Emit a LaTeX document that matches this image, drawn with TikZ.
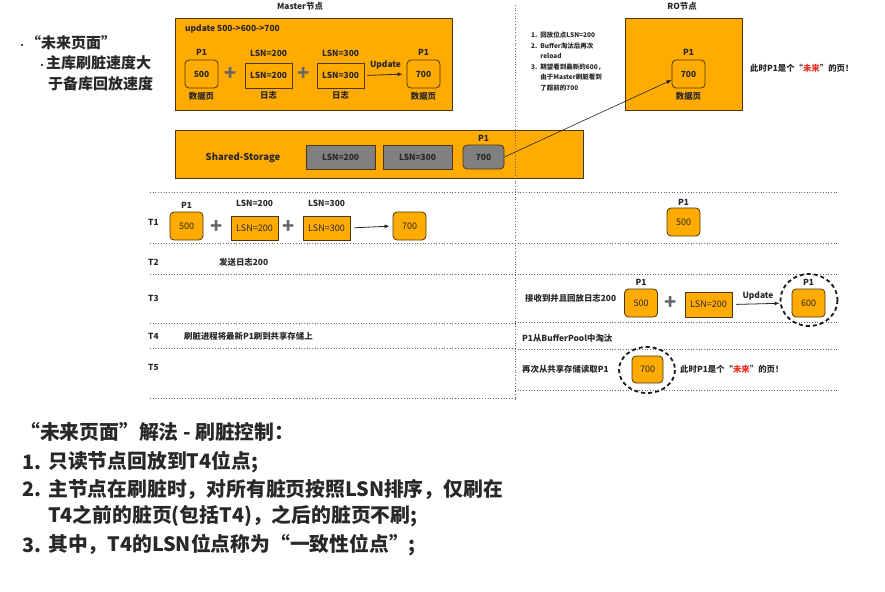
\documentclass[tikz,border=0pt]{standalone}
\usepackage{fontspec}
\setmainfont{Noto Sans CJK SC}
\usepackage{xcolor}
\usetikzlibrary{arrows.meta, positioning, calc}
\definecolor{pageorange}{RGB}{255,171,0}
\definecolor{boxedge}{RGB}{75,55,15}
\definecolor{storegray}{RGB}{128,128,128}
\definecolor{futurered}{RGB}{235,45,30}
\definecolor{inkgray}{RGB}{40,40,40}

\begin{document}
\begin{tikzpicture}[x=1pt, y=-1pt,
    every node/.style={font=\bfseries\fontsize{8.4}{9}\selectfont, inner sep=0pt, text=inkgray},
    region/.style={rectangle, draw=boxedge, fill=pageorange, line width=0.8pt},
    page/.style={rectangle, draw=boxedge, fill=pageorange, rounded corners=4pt, line width=0.8pt, minimum width=33pt, minimum height=28pt},
    logrec/.style={rectangle, draw=boxedge, fill=pageorange, line width=0.8pt, minimum width=47pt, minimum height=25pt},
    grayrec/.style={rectangle, draw=boxedge, fill=storegray, line width=0.8pt, minimum width=69pt, minimum height=24pt},
    rowpage/.style={page, font=\fontsize{9}{10}\selectfont},
    rowlog/.style={logrec, font=\fontsize{9}{10}\selectfont},
    plus/.style={font=\bfseries\fontsize{20}{20}\selectfont, text=black!60},
    arrow/.style={-{Latex[length=5pt, width=4pt]}, line width=0.8pt, black!85},
    sep/.style={dotted, line width=0.7pt, black!60},
    ring/.style={dashed, dash pattern=on 4pt off 3pt, line width=1.8pt, black!90},
    big/.style={font=\bfseries\fontsize{15}{17}\selectfont},
    huge/.style={font=\bfseries\fontsize{19.8}{22}\selectfont}
]
\useasboundingbox (0,0) rectangle (885,591);

% left bullets
\node (bull1) [big, anchor=west] at (18,43) {{\fontsize{8}{8}\selectfont•}“未来页面”};
\node (bull2) [big, anchor=west] at (38,63) {{\fontsize{8}{8}\selectfont•}主库刷脏速度大};
\node (bull3) [big, anchor=west] at (48,84) {于备库回放速度};

% Master node
\node (mastertitle) at (300,6) {Master节点};
\node (masterbox) [region, minimum width=277pt, minimum height=92pt] at (313.5,64) {};
\node (mupdate) [anchor=west] at (185,29) {update 500->600->700};
\node (m500) [page] at (201.5,74) {500};
\node [above=4pt of m500] {P1};
\node [below=4pt of m500] {数据页};
\node (mplus1) [plus] at (231,74) {+};
\node (m200) [logrec] at (268.5,75.5) {LSN=200};
\node [above=6pt of m200] {LSN=200};
\node [below=3pt of m200] {日志};
\node (mplus2) [plus] at (304,74) {+};
\node (m300) [logrec] at (340.5,75.5) {LSN=300};
\node [above=6pt of m300] {LSN=300};
\node [below=3pt of m300] {日志};
\node (m700) [page] at (423.5,74) {700};
\node [above=4pt of m700] {P1};
\node [below=4pt of m700] {数据页};
\draw [arrow, shorten <=3pt, shorten >=4pt] (m300.east) -- (m700.west)
    node[midway, above=5pt] {Update};

% RO node
\node (rotitle) at (682,6) {RO节点};
\node (robox) [region, minimum width=117pt, minimum height=92pt] at (683.5,64) {};
\node (ro700) [page] at (688.5,74) {700};
\node [above=4pt of ro700] {P1};
\node [below=4pt of ro700] {数据页};
\node (ronote) [anchor=north west, font=\bfseries\fontsize{6.5}{10.5}\selectfont] at (531,30)
    {\begin{tabular}{@{}l@{\ \ }l@{}}
     1. & 回放位点LSN=200\\
     2. & Buffer淘汰后再次\\
        & reload\\
     3. & 期望看到最新的600，\\
        & 由于Master刷脏看到\\
        & 了超前的700
     \end{tabular}};
\node (rofuture) [anchor=west] at (750,68) {此时P1是个“\textcolor{futurered}{未来}”的页！};

% Shared-Storage
\node (storebox) [region, minimum width=408pt, minimum height=48pt] at (379,154) {};
\node (storetitle) [font=\bfseries\fontsize{9.5}{10}\selectfont] at (243,158) {Shared-Storage};
\node (s200) [grayrec] at (340.5,157) {LSN=200};
\node (s300) [grayrec] at (417.5,157) {LSN=300};
\node (s700) [grayrec, rounded corners=4pt, minimum width=41pt] at (483.5,157) {700};
\node [above=3pt of s700] {P1};
\draw [arrow, line width=0.6pt] (s700.east) -- ($(ro700.west)+(0,6)$);

% separators
\draw [sep] (515,5) -- (515,400);
\foreach \yy in {192,243,274,323,348,398}
    \draw [sep] (150,\yy) -- (515,\yy);
\foreach \yy in {192,243,274,322,349,390}
    \draw [sep] (515,\yy) -- (838,\yy);

% row labels
\node (rowT1) [anchor=west] at (148,222) {T1};
\node (rowT2) [anchor=west] at (148,262) {T2};
\node (rowT3) [anchor=west] at (148,298) {T3};
\node (rowT4) [anchor=west] at (148,336) {T4};
\node (rowT5) [anchor=west] at (148,367) {T5};

% T1
\node (t500) [rowpage] at (186.5,226) {500};
\node [above=3pt of t500] {P1};
\node (tplus1) [plus] at (217,227) {+};
\node (t200) [rowlog, minimum height=24pt] at (254.5,228) {LSN=200};
\node [above=9pt of t200] {LSN=200};
\node (tplus2) [plus] at (289,227) {+};
\node (t300) [rowlog, minimum height=24pt] at (326.5,228) {LSN=300};
\node [above=9pt of t300] {LSN=300};
\node (t700) [rowpage] at (409.5,226) {700};
\draw [arrow, shorten <=4pt, shorten >=3pt] (t300.east) -- (t700.west);
\node (r500) [rowpage] at (683.5,222) {500};
\node [above=2pt of r500] {P1};

% T2
\node (sendlog) [anchor=west] at (219,262) {发送日志200};

% T3
\node (replay) [anchor=west] at (525,298) {接收到并且回放日志200};
\node (r3500) [rowpage] at (641,303) {500};
\node [above=3pt of r3500] {P1};
\node (r3plus) [plus] at (671,303) {+};
\node (r3200) [rowlog] at (708.5,304.5) {LSN=200};
\node (r600) [rowpage] at (808.5,303) {600};
\node [above=3pt of r600] {P1};
\draw [arrow, shorten <=4pt, shorten >=12pt] (r3200.east) -- (r600.west)
    node[midway, above=3pt, xshift=-4pt] {Update};
\draw [ring] (809,300) ellipse (28.5 and 26);

% T4
\node (flush) [anchor=west] at (184,336) {刷脏进程将最新P1刷到共享存储上};
\node (evict) [anchor=west] at (522,338) {P1从BufferPool中淘汰};

% T5
\node (reread) [anchor=west] at (522,369) {再次从共享存储读取P1};
\node (r700) [rowpage, minimum width=31pt, minimum height=27pt] at (647.5,369.5) {700};
\draw [ring] (647,370) ellipse (28 and 23);
\node (t5future) [anchor=west] at (680,369) {此时P1是个“\textcolor{futurered}{未来}”的页！};

% solution
\node (soltitle) [huge, anchor=west] at (20,432) {“未来页面”解法 - 刷脏控制：};
\node (num1) [huge, anchor=west] at (22,462) {1.};
\node (sol1) [huge, anchor=west] at (48,462) {只读节点回放到T4位点;};
\node (num2) [huge, anchor=west] at (22,489) {2.};
\node (sol2) [huge, anchor=west] at (48,489) {主节点在刷脏时，对所有脏页按照LSN排序，仅刷在};
\node (sol2b) [huge, anchor=west] at (48,516) {T4之前的脏页(包括T4)，之后的脏页不刷;};
\node (num3) [huge, anchor=west] at (22,545) {3.};
\node (sol3) [huge, anchor=west] at (48,545) {其中，T4的LSN位点称为“一致性位点”;};

\end{tikzpicture}
\end{document}
